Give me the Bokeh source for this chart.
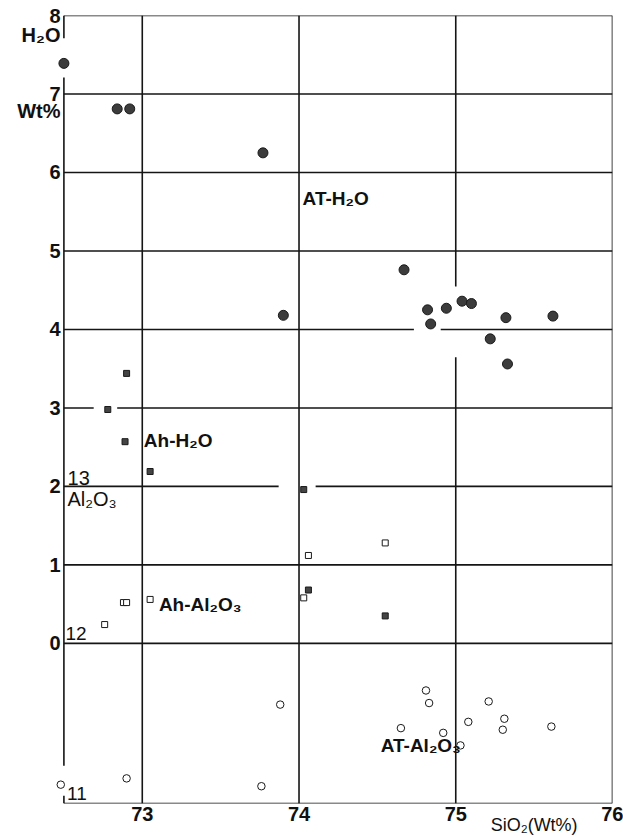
from bokeh.plotting import figure
from bokeh.models import Range1d, FixedTicker, Label, LinearAxis
from bokeh.embed import file_html
from bokeh.resources import INLINE

# ---- data ----
# AT: H2O (wt%) vs SiO2 (wt%)
at_h2o_sio2 = [72.50, 72.84, 72.92, 73.77, 73.90, 74.67, 74.82, 74.84, 74.94,
               75.04, 75.10, 75.32, 75.22, 75.33, 75.62]
at_h2o = [7.39, 6.81, 6.81, 6.25, 4.18, 4.76, 4.25, 4.07, 4.27,
          4.36, 4.33, 4.15, 3.88, 3.56, 4.17]
# Ah: H2O (wt%)
ah_h2o_sio2 = [72.90, 72.78, 72.89, 73.05, 74.03, 74.06, 74.55]
ah_h2o = [3.44, 2.98, 2.57, 2.19, 1.96, 0.68, 0.35]
# Ah: Al2O3 (wt%)
ah_al_sio2 = [72.76, 72.88, 72.90, 73.05, 74.03, 74.06, 74.55]
ah_al2o3 = [12.12, 12.26, 12.26, 12.28, 12.29, 12.56, 12.64]
# AT: Al2O3 (wt%)
at_al_sio2 = [72.48, 72.90, 73.76, 73.88, 74.81, 74.83, 74.65, 74.92, 75.03,
              75.08, 75.21, 75.31, 75.30, 75.61]
at_al2o3 = [11.10, 11.14, 11.09, 11.61, 11.70, 11.62, 11.46, 11.43, 11.35,
            11.50, 11.63, 11.52, 11.45, 11.47]

x_ticks = [73, 74, 75, 76]
y_ticks = [0, 1, 2, 3, 4, 5, 6, 7, 8]
y_unit_labels = {7.75: "H₂O", 6.78: "Wt%"}   # names written in the left margin
x_title = {75.5: "SiO₂(Wt%)"}

X0, X1 = 72.5, 76.0      # drawn frame
Y0, Y1 = -2.04, 8.0
XPAD = 0.06              # room so edge points are not clipped
FONT = "Liberation Sans, DejaVu Sans"

p = figure(width=623, height=838, x_range=Range1d(X0 - XPAD, X1), y_range=Range1d(Y0, Y1),
           output_backend="svg", toolbar_location=None,
           min_border_left=54, min_border_right=11, min_border_top=15, min_border_bottom=35)
p.extra_y_ranges = {"al": Range1d(12 + Y0 / 2, 12 + Y1 / 2)}
p.xgrid.visible = False
p.ygrid.visible = False
p.outline_line_color = None
p.background_fill_color = "white"
p.border_fill_color = "white"

def style_axis(ax, ticks, standoff, size, bold=True, overrides=None):
    ax.ticker = FixedTicker(ticks=list(ticks))
    ax.major_tick_line_color = None
    ax.minor_tick_line_color = None
    ax.major_tick_in = 0
    ax.major_tick_out = 0
    ax.axis_line_color = None
    ax.major_label_text_font = FONT
    ax.major_label_text_font_style = "bold" if bold else "normal"
    ax.major_label_text_font_size = f"{size}px"
    ax.major_label_text_color = "#111111"
    ax.major_label_standoff = standoff
    if overrides:
        ax.major_label_overrides = overrides

style_axis(p.xaxis[0], x_ticks, 3, 20)
style_axis(p.yaxis[0], y_ticks + list(y_unit_labels), -6, 20, overrides=y_unit_labels)

# second bottom axis carrying only the SiO2 axis title at its place
title_axis = LinearAxis()
style_axis(title_axis, x_title, -9, 18, bold=False, overrides=x_title)
p.add_layout(title_axis, "below")

# ---- grid / frame lines with the small breaks of the original ----
h_lines = [Y0, 0, 1, 2, 3, 4, 5, 6, 7, Y1]
v_lines = [X0, 73, 74, 75, X1]
h_gaps = {3: [(72.69, 72.84)], 2: [(73.87, 74.106)], 4: [(74.733, 74.904)]}
v_gaps = {75: [(3.645, 4.546)], X0: [(7.21, 7.71), (-1.94, -1.56)]}

def pieces(lo, hi, gaps):
    out, start = [], lo
    for a, b in sorted(gaps):
        out.append((start, a))
        start = b
    out.append((start, hi))
    return out

sx0, sy0, sx1, sy1 = [], [], [], []
for yv in h_lines:
    for a, b in pieces(X0, X1, h_gaps.get(yv, [])):
        sx0.append(a); sx1.append(b); sy0.append(yv); sy1.append(yv)
for xv in v_lines:
    for a, b in pieces(Y0, Y1, v_gaps.get(xv, [])):
        sx0.append(xv); sx1.append(xv); sy0.append(a); sy1.append(b)
p.segment(sx0, sy0, sx1, sy1, line_color="#151515", line_width=1.6)

# ---- data marks ----
p.scatter(at_h2o_sio2, at_h2o, marker="circle", size=10,
          fill_color="#3c3c3c", line_color="#1a1a1a", line_width=1)
p.scatter(ah_h2o_sio2, ah_h2o, marker="square", size=6,
          fill_color="#444444", line_color="#1a1a1a", line_width=1)
p.scatter(ah_al_sio2, ah_al2o3, y_range_name="al", marker="square", size=6,
          fill_color="white", line_color="#1a1a1a", line_width=1)
p.scatter(at_al_sio2, at_al2o3, y_range_name="al", marker="circle", size=7.5,
          fill_color="white", line_color="#1a1a1a", line_width=1)

# ---- texts inside the frame ----
def lab(x, y, t, size, bold=True, align="left"):
    p.add_layout(Label(x=x, y=y + 0.065, text=t, text_font=FONT,
                       text_font_size=f"{size}px",
                       text_font_style="bold" if bold else "normal",
                       text_color="#111111", text_align=align,
                       text_baseline="alphabetic"))

lab(74.023, 5.604, "AT-H₂O", 19)
lab(73.010, 2.520, "Ah-H₂O", 19)
lab(73.106, 0.430, "Ah-Al₂O₃", 19)
lab(74.521, -1.368, "AT-Al₂O₃", 19)
lab(72.523, 2.048, "13", 20, bold=False)
lab(72.523, 1.781, "Al₂O₃", 20, bold=False)
lab(72.510, 0.056, "12", 19, bold=False)
lab(72.520, -1.983, "11", 19, bold=False)

open("out.html", "w").write(file_html(p, INLINE))
